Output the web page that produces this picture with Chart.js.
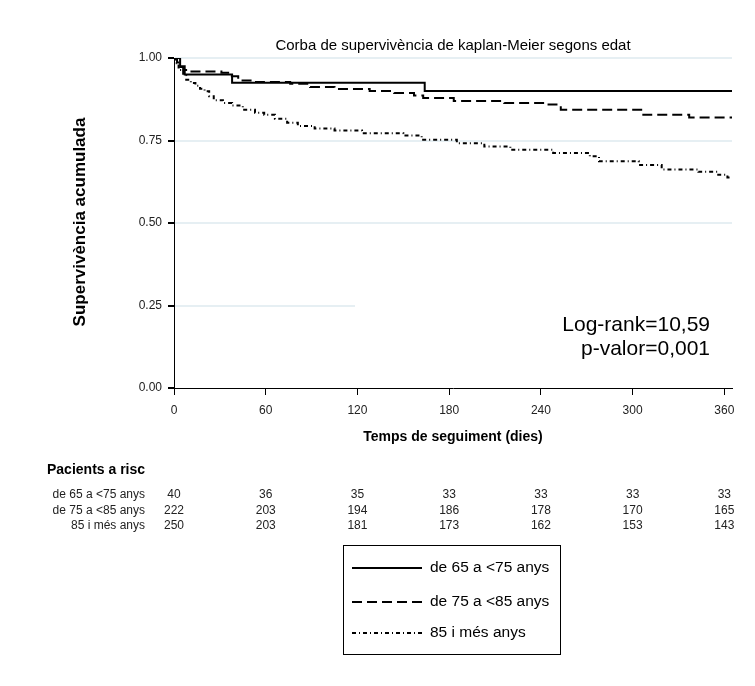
<!DOCTYPE html>
<html>
<head>
<meta charset="utf-8">
<script src="https://cdn.jsdelivr.net/npm/chart.js@4"></script>
<style>
  html, body { margin: 0; background: #fff; }
  canvas { display: block; }
</style>
</head>
<body>
<canvas id="km" width="755" height="686"></canvas>
<script>
// Dades llegides de la figura (Kaplan-Meier per grups d'edat)
const groups = ["de 65 a <75 anys", "de 75 a <85 anys", "85 i més anys"];

const timeG1 = [0, 4, 7, 38, 164, 365];
const survG1 = [1, 0.975, 0.95, 0.925, 0.90, 0.90];

const timeG2 = [0, 2, 4, 6, 10, 31, 37, 42, 53, 76, 89, 105, 128, 144, 157, 163, 183, 216, 245, 253, 307, 337, 365];
const survG2 = [1, .986, .973, .964, .959, .955, .945, .932, .927, .922, .912, .906, .900, .894, .886, .879, .870, .864, .859, .843, .828, .820, .820];

const timeG3 = [0, 1, 3, 6, 8, 11, 14, 17, 20, 23, 26, 32, 38, 45, 53, 59, 66, 74, 81, 92, 105, 123, 150, 162, 185, 203, 220, 248, 272, 278, 304, 319, 343, 356, 362, 365];
const survG3 = [1, .984, .964, .948, .934, .924, .916, .907, .899, .884, .872, .864, .856, .843, .834, .828, .816, .804, .794, .786, .780, .772, .765, .752, .742, .732, .722, .712, .702, .687, .676, .662, .655, .646, .638, .638];

// Pacients a risc
const riskTimes = [0, 60, 120, 180, 240, 300, 360];
const riskG1 = [40, 36, 35, 33, 33, 33, 33];
const riskG2 = [222, 203, 194, 186, 178, 170, 165];
const riskG3 = [250, 203, 181, 173, 162, 153, 143];

const xTicks = [0, 60, 120, 180, 240, 300, 360];
const yTicks = [0, 0.25, 0.5, 0.75, 1];

const titleText = "Corba de supervivència de kaplan-Meier segons edat";
const yTitle = "Supervivència acumulada";
const xTitle = "Temps de seguiment (dies)";
const statLines = ["Log-rank=10,59", "p-valor=0,001"];

const dashes = [[], [10, 5], [4, 3, 1, 3]];
const SANS = '"Liberation Sans", Arial, sans-serif';

function toPoints(t, s) {
  return t.map((v, i) => ({ x: v, y: s[i] }));
}

// textos, taula de risc i llegenda dibuixats al canvas
const extrasPlugin = {
  id: "extras",
  beforeDatasetsDraw(chart) {
    // caixa blanca darrere del text Log-rank (tapa la línia de graella)
    const ctx = chart.ctx;
    ctx.save();
    ctx.fillStyle = "#fff";
    ctx.fillRect(355, 300, chart.chartArea.right - 355 + 1, 80);
    ctx.restore();
  },
  afterDraw(chart) {
    const ctx = chart.ctx;
    const xs = chart.scales.x;
    const area = chart.chartArea;
    const midX = (area.left + area.right) / 2;
    ctx.save();
    ctx.fillStyle = "#000";
    ctx.textBaseline = "middle";

    ctx.font = "15px " + SANS;
    ctx.textAlign = "center";
    ctx.fillText(titleText, midX, 46);

    ctx.font = "bold 14px " + SANS;
    ctx.fillText(xTitle, midX, 437);

    ctx.save();
    ctx.translate(80, 222);
    ctx.rotate(-Math.PI / 2);
    ctx.font = "bold 17px " + SANS;
    ctx.fillText(yTitle, 0, 0);
    ctx.restore();

    ctx.font = "21px " + SANS;
    ctx.textAlign = "right";
    ctx.fillText(statLines[0], 710, 325);
    ctx.fillText(statLines[1], 710, 349);

    // Pacients a risc
    ctx.textAlign = "left";
    ctx.font = "bold 14px " + SANS;
    ctx.fillText("Pacients a risc", 47, 470);
    const rows = [riskG1, riskG2, riskG3];
    const rowY = [495, 511, 526];
    ctx.font = "12px " + SANS;
    ctx.fillStyle = "#222";
    rows.forEach((vals, r) => {
      ctx.textAlign = "right";
      ctx.fillText(groups[r], 145, rowY[r]);
      ctx.textAlign = "center";
      vals.forEach((v, i) => {
        ctx.fillText(String(v), xs.getPixelForValue(riskTimes[i]), rowY[r]);
      });
    });

    // Llegenda
    ctx.fillStyle = "#000";
    ctx.strokeStyle = "#000";
    ctx.lineWidth = 1;
    ctx.strokeRect(343.5, 545.5, 217, 109);
    const legY = [568, 602, 633];
    ctx.font = "15.5px " + SANS;
    ctx.textAlign = "left";
    groups.forEach((g, i) => {
      ctx.beginPath();
      ctx.lineWidth = 2;
      ctx.setLineDash(dashes[i]);
      ctx.moveTo(352, legY[i]);
      ctx.lineTo(422, legY[i]);
      ctx.stroke();
      ctx.setLineDash([]);
      ctx.fillText(g, 430, legY[i]);
    });
    ctx.restore();
  }
};

const datasets = [
  { label: groups[0], data: toPoints(timeG1, survG1), borderWidth: 2 },
  { label: groups[1], data: toPoints(timeG2, survG2), borderWidth: 2 },
  { label: groups[2], data: toPoints(timeG3, survG3), borderWidth: 2 }
].map((d, i) => Object.assign(d, {
  borderColor: "#000",
  borderDash: dashes[i],
  stepped: true,
  pointRadius: 0,
  fill: false,
  tension: 0
}));

new Chart(document.getElementById("km"), {
  type: "line",
  data: { datasets },
  options: {
    responsive: false,
    animation: false,
    events: [],
    layout: { padding: { left: 114, right: 23, top: 58, bottom: 268 } },
    plugins: { legend: { display: false }, title: { display: false }, tooltip: { enabled: false } },
    scales: {
      x: {
        type: "linear",
        min: 0,
        max: 365,
        afterFit: (s) => { s.height = 30; },
        afterBuildTicks: (s) => { s.ticks = xTicks.map((v) => ({ value: v })); },
        grid: { drawOnChartArea: false, tickLength: 7, tickColor: "#000" },
        border: { color: "#000", width: 1 },
        ticks: { color: "#222", font: { family: SANS, size: 12 }, padding: 8, maxRotation: 0 }
      },
      y: {
        min: 0,
        max: 1,
        afterFit: (s) => { s.width = 60; },
        afterBuildTicks: (s) => { s.ticks = yTicks.map((v) => ({ value: v })); },
        grid: {
          color: (c) => (c.tick && c.tick.value === 0 ? "rgba(0,0,0,0)" : "#e6eff3"),
          lineWidth: 2,
          tickLength: 6,
          tickColor: "#000"
        },
        border: { color: "#000", width: 1 },
        ticks: {
          color: "#222",
          font: { family: SANS, size: 12 },
          padding: 6,
          callback: (v) => Number(v).toFixed(2)
        }
      }
    }
  },
  plugins: [extrasPlugin]
});
</script>
</body>
</html>
